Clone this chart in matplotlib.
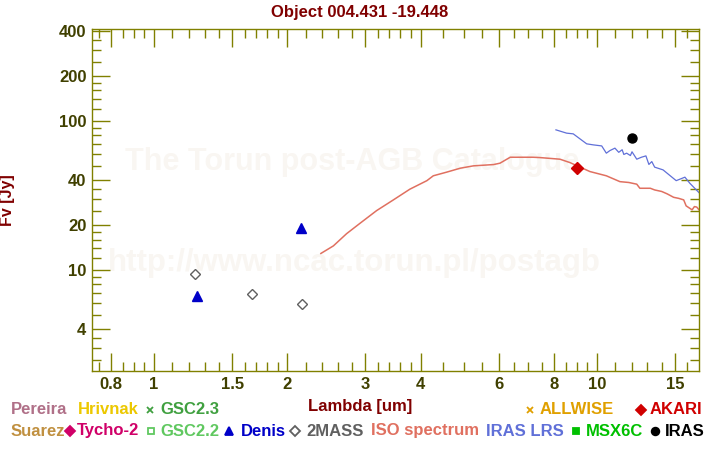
"""Recreate the Torun post-AGB catalogue SED plot for object 004.431 -19.448."""

import matplotlib

matplotlib.use("Agg")
import matplotlib.pyplot as plt
from matplotlib.lines import Line2D
from matplotlib.ticker import FixedLocator, FixedFormatter, NullFormatter

plt.rcParams["font.family"] = ["Liberation Sans", "DejaVu Sans"]
plt.rcParams["font.weight"] = "bold"

# photometry (wavelength um, flux Jy)
denis_wl = [1.25, 2.15]
denis_fv = [6.7, 19.0]
twomass_wl = [1.235, 1.662, 2.159]
twomass_fv = [9.35, 6.87, 5.89]
akari_wl = [9.0]
akari_fv = [48.2]
iras_wl = [12.0]
iras_fv = [76.5]

# ISO spectrum
iso_wl = [2.38, 2.54, 2.72, 2.92, 3.18, 3.47, 3.78, 4.13, 4.27, 4.58, 4.91,
          5.26, 5.84, 6.04, 6.37, 7.18, 7.44, 8.25, 8.69, 9.64, 10.5, 11.27,
          11.8, 12.3, 12.5, 13.2, 13.5, 14.0, 14.4, 14.9, 15.3, 15.7, 15.9,
          16.4, 16.6, 16.8, 17.0]
iso_fv = [12.9, 14.5, 17.5, 20.6, 25.0, 29.5, 34.8, 39.7, 42.8, 45.3, 48.1,
          49.9, 50.9, 52.0, 57.0, 57.0, 56.7, 55.3, 52.5, 45.7, 42.8, 39.1,
          38.6, 37.6, 35.3, 35.3, 34.4, 33.6, 32.4, 30.7, 30.2, 29.5, 26.9,
          25.3, 26.6, 26.4, 25.3]

# IRAS LRS spectrum
lrs_wl = [8.08, 8.54, 8.84, 9.48, 9.81, 10.25, 10.5, 10.7, 10.98, 11.2,
          11.4, 11.5, 11.67, 11.9, 12.0, 12.3, 12.6, 12.9, 13.1, 13.3, 13.5,
          14.1, 15.1, 15.8, 16.2, 17.0]
lrs_fv = [87.0, 82.7, 81.8, 70.1, 69.0, 67.9, 60.7, 63.2, 65.6, 61.5,
          64.0, 59.5, 60.7, 58.5, 62.0, 55.3, 57.0, 58.2, 51.0, 53.3, 48.9,
          46.9, 39.7, 41.9, 38.2, 33.0]

x_major = [0.8, 1, 1.5, 2, 3, 4, 6, 8, 10, 15]
x_minor = [0.75, 0.85, 0.9, 0.95, 1.1, 1.2, 1.3, 1.4, 1.6, 1.7, 1.8, 1.9,
           2.2, 2.4, 2.6, 2.8, 3.2, 3.4, 3.6, 3.8, 4.5, 5, 5.5, 6.5, 7, 7.5,
           8.5, 9, 9.5, 11, 12, 13, 14, 16]
y_major = [4, 10, 20, 40, 100, 200, 400]
y_minor = [2.5, 3, 3.5, 5, 6, 7, 8, 9, 12, 14, 16, 18, 25, 30, 35, 50, 60,
           70, 80, 90, 120, 140, 160, 180, 250, 300, 350]

# (label, colour, marker, marker x px, text x px)
legend_rows = [
    [("Pereira", "#b07088", None, 0, 10.7), ("Hrivnak", "#ecc800", None, 0, 78),
     ("GSC2.3", "#40a040", "x", 150, 160.7), ("ALLWISE", "#e0a000", "x", 529.5, 540),
     ("AKARI", "#d00000", "D", 640.5, 650)],
    [("Suarez", "#c09040", None, 0, 10.7), ("Tycho-2", "#d00068", "D", 69.7, 76.7),
     ("GSC2.2", "#60c860", "s_open", 151, 160.7), ("Denis", "#0000c8", "^", 229.5, 240.7),
     ("2MASS", "#606060", "D_open", 295, 306), ("ISO spectrum", "#e07060", None, 0, 370.7),
     ("IRAS LRS", "#6070d8", None, 0, 485.7), ("MSX6C", "#00c000", "s", 575.5, 585.7),
     ("IRAS", "#000000", "o", 654.5, 665)],
]

OLIVE = "#808000"
TICKTXT = "#404000"
DARKRED = "#800000"

fig = plt.figure(figsize=(7.2, 4.5), dpi=100)
ax = fig.add_axes([92 / 720, 1 - 371 / 450, (699 - 92) / 720, (371 - 29) / 450])
ax.set_xscale("log")
ax.set_yscale("log")
ax.set_xlim(0.724, 17.0)
ax.set_ylim(2.1, 413)

# watermark
wm = "#f9f6f2"
ax.text(0.428, 0.611, "The Torun post-AGB Catalogue", transform=ax.transAxes,
        ha="center", va="center", fontsize=22, color=wm, zorder=0)
ax.text(0.432, 0.316, "http://www.ncac.torun.pl/postagb", transform=ax.transAxes,
        ha="center", va="center", fontsize=22.5, color=wm, zorder=0)

ax.plot(iso_wl, iso_fv, color="#e07060", lw=1.1, zorder=2)
ax.plot(lrs_wl, lrs_fv, color="#6070d8", lw=0.9, zorder=2)
ax.plot(denis_wl, denis_fv, ls="none", marker="^", ms=6.5, color="#0000c8", zorder=3)
ax.plot(twomass_wl, twomass_fv, ls="none", marker="D", ms=5, mfc="none",
        mec="#606060", mew=1.0, zorder=3)
ax.plot(akari_wl, akari_fv, ls="none", marker="D", ms=6.5, color="#d00000", zorder=3)
ax.plot(iras_wl, iras_fv, ls="none", marker="o", ms=6.5, color="#000000", zorder=3)

for s in ax.spines.values():
    s.set_color(OLIVE)
    s.set_linewidth(1.0)

ax.xaxis.set_major_locator(FixedLocator(x_major))
ax.xaxis.set_major_formatter(FixedFormatter([f"{v:g}" for v in x_major]))
ax.xaxis.set_minor_locator(FixedLocator(x_minor))
ax.xaxis.set_minor_formatter(NullFormatter())
ax.yaxis.set_major_locator(FixedLocator(y_major))
ax.yaxis.set_major_formatter(FixedFormatter([f"{v:g}" for v in y_major]))
ax.yaxis.set_minor_locator(FixedLocator(y_minor))
ax.yaxis.set_minor_formatter(NullFormatter())
ax.tick_params(which="both", direction="in", top=True, right=True, color=OLIVE,
               width=1.0, labelcolor=TICKTXT, labelsize=12, pad=4)
ax.tick_params(which="major", length=13)
ax.tick_params(which="minor", length=6.5)
for lab in ax.get_xticklabels() + ax.get_yticklabels():
    lab.set_fontweight("bold")

fig.text(0.5, 1 - 12 / 450, "Object 004.431 -19.448", ha="center", va="center",
         fontsize=12, color=DARKRED)
fig.text(360 / 720, 1 - 406 / 450, "Lambda [um]", ha="center", va="center",
         fontsize=12, color=DARKRED)
fig.text(8 / 720, 1 - 200 / 450, "Fv [Jy]", ha="center", va="center",
         rotation=90, fontsize=11.5, color=DARKRED)

# legend rows drawn as text
row_y = [410, 431]
for row, yy in zip(legend_rows, row_y):
    for name, col, mk, mx, tx in row:
        yf = 1 - yy / 450
        fig.text(tx / 720, yf, name, color=col, fontsize=12, va="center")
        if mk is None:
            continue
        filled = not mk.endswith("_open")
        m = mk.replace("_open", "")
        size = {"x": 5, "D": 5, "s": 5, "^": 6, "o": 5.5}[m]
        fig.add_artist(Line2D([mx / 720], [yf], transform=fig.transFigure,
                              marker=m, ms=size, color=col,
                              mfc=col if filled else "none", mec=col, mew=1.3,
                              ls="none"))

fig.savefig("out.png", dpi=100)
